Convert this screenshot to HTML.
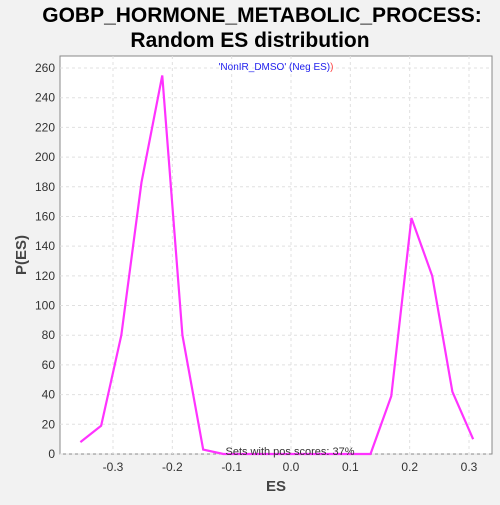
<!DOCTYPE html>
<html><head><meta charset="utf-8"><style>
body{margin:0;background:#f2f2f2;width:500px;height:500px;overflow:hidden;font-family:"Liberation Sans",sans-serif}
</style></head><body>
<svg width="500" height="500">
<text x="262" y="22" text-anchor="middle" font-size="21" font-weight="bold">GOBP_HORMONE_METABOLIC_PROCESS:</text>
<text x="250" y="47" text-anchor="middle" font-size="21" font-weight="bold">Random ES distribution</text>
<rect x="60" y="56" width="432" height="398" fill="#fff" stroke="#888"/>
<g id="grid"></g><g id="ticks"></g>
<polyline id="line" fill="none" stroke="#ff33ff" stroke-width="2.2"/>
<text x="276" y="70" text-anchor="middle" font-size="10" fill="#2222ee">'NonIR_DMSO' (Neg ES)<tspan fill="#ff4444">)</tspan></text>
<text x="290" y="455" text-anchor="middle" font-size="11" fill="#333">Sets with pos scores: 37%</text>
<text x="276" y="491" text-anchor="middle" font-size="15" font-weight="bold" fill="#444">ES</text>
<text transform="translate(26,255) rotate(-90)" text-anchor="middle" font-size="15" font-weight="bold" fill="#444">P(ES)</text>
</svg>
<script>
const esValues=[-0.355,-0.32,-0.286,-0.252,-0.217,-0.183,-0.148,-0.114,-0.079,-0.045,-0.010,0.024,0.059,0.099,0.134,0.169,0.203,0.238,0.272,0.307];
const probValues=[8,19,80,183,255,80,3,0,0,0,0,0,0,0,0,39,159,120,42,10];
const xTicks=[-0.3,-0.2,-0.1,0.0,0.1,0.2,0.3];
const yTicks=[0,20,40,60,80,100,120,140,160,180,200,220,240,260];
const X=v=>291+v*593.3, Y=v=>454-v*1.4846;
const ns="http://www.w3.org/2000/svg";
const g=document.getElementById('grid'),t=document.getElementById('ticks');
xTicks.forEach(v=>{
 const l=document.createElementNS(ns,'line');
 
 
 l.setAttribute('x1',X(v));l.setAttribute('x2',X(v));l.setAttribute('y1',56);l.setAttribute('y2',454);
 l.setAttribute('stroke','#e0e0e0');l.setAttribute('stroke-dasharray','3,3');g.appendChild(l);
 const s=document.createElementNS(ns,'text');
 
 
 s.setAttribute('x',X(v));s.setAttribute('y',471);s.setAttribute('text-anchor','middle');s.setAttribute('font-size','12');s.setAttribute('fill','#333');
 s.textContent=v.toFixed(1);t.appendChild(s);
});
yTicks.forEach(v=>{
 const l=document.createElementNS(ns,'line');
 
 
 l.setAttribute('x1',60);l.setAttribute('x2',492);l.setAttribute('y1',Y(v));l.setAttribute('y2',Y(v));
 l.setAttribute('stroke','#e0e0e0');l.setAttribute('stroke-dasharray','3,3');g.appendChild(l);
 const s=document.createElementNS(ns,'text');
 
 
 s.setAttribute('x',55);s.setAttribute('y',Y(v)+4);s.setAttribute('text-anchor','end');s.setAttribute('font-size','12');s.setAttribute('fill','#333');
 s.textContent=v;t.appendChild(s);
});
document.getElementById('line').setAttribute('points',esValues.map((e,i)=>X(e)+','+Y(probValues[i])).join(' '));
</script>
</body></html>
